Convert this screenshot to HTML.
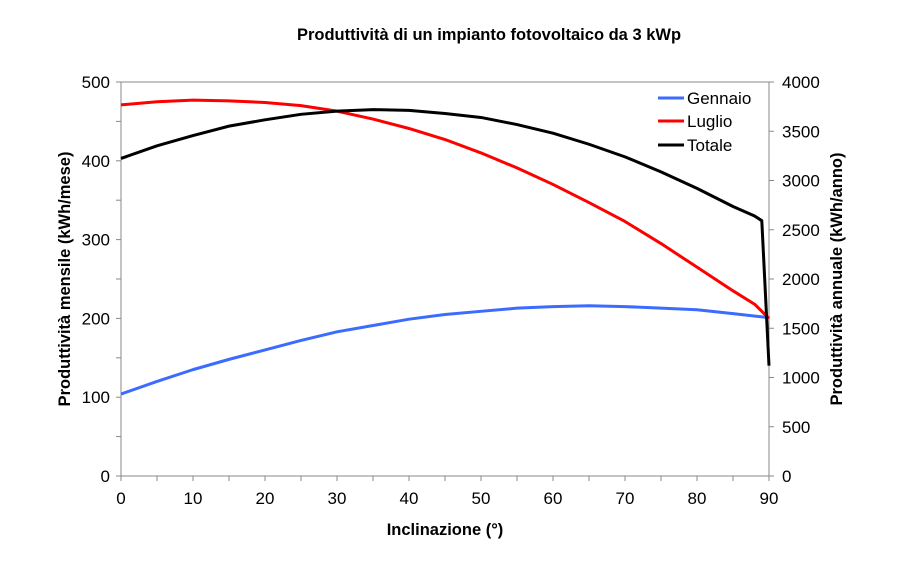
<!DOCTYPE html>
<html><head><meta charset="utf-8"><style>
body{margin:0;background:#fff}
svg{display:block;font-family:"Liberation Sans",Arial,sans-serif}
</style></head><body>
<svg id="c" width="900" height="562" xmlns="http://www.w3.org/2000/svg">
<rect width="900" height="562" fill="#fff"/>
<text x="489" y="40" font-size="16.5" font-weight="bold" text-anchor="middle">Produttività di un impianto fotovoltaico da 3 kWp</text>
<g id="ax" stroke="#888" stroke-width="1" fill="none">
<line x1="121" y1="82" x2="769" y2="82"/>
<line x1="121" y1="82" x2="121" y2="476"/>
<line x1="769" y1="82" x2="769" y2="476"/>
<line x1="121" y1="476" x2="769" y2="476"/>
</g>
<g id="lab" font-size="17"></g>
<text x="445" y="535" font-size="16.5" font-weight="bold" text-anchor="middle">Inclinazione (°)</text>
<text transform="translate(70,279) rotate(-90)" font-size="16.5" font-weight="bold" text-anchor="middle">Produttività mensile (kWh/mese)</text>
<text transform="translate(842,279) rotate(-90)" font-size="16.5" font-weight="bold" text-anchor="middle">Produttività annuale (kWh/anno)</text>
<g id="ser" fill="none" stroke-width="3" stroke-linejoin="round"></g>
<g font-size="17">
<line x1="658" y1="98" x2="684" y2="98" stroke="#3b6cff" stroke-width="3"/><text x="687" y="104">Gennaio</text>
<line x1="658" y1="121" x2="684" y2="121" stroke="#ff0000" stroke-width="3"/><text x="687" y="127">Luglio</text>
<line x1="658" y1="145" x2="684" y2="145" stroke="#000" stroke-width="3"/><text x="687" y="151">Totale</text>
</g>
</svg>
<script>
var NS="http://www.w3.org/2000/svg";
function X(d){return 121+d*7.2}function Y(v){return 476-v*0.788}
function el(p,t,a,txt){var e=document.createElementNS(NS,t);for(var k in a)e.setAttribute(k,a[k]);if(txt!=null)e.textContent=txt;document.getElementById(p).appendChild(e);}
for(var v=0;v<=500;v+=50){var y=Y(v);el("ax","line",{x1:116,y1:y,x2:121,y2:y});if(v%100==0)el("lab","text",{x:110,y:y+6,"text-anchor":"end"},v);}
for(var r=0;r<=4000;r+=500){var y=476-r*0.0985;el("ax","line",{x1:769,y1:y,x2:774,y2:y});el("lab","text",{x:782,y:y+6},r);}
for(var d=0;d<=90;d+=5){var x=X(d);el("ax","line",{x1:x,y1:476,x2:x,y2:481});if(d%10==0)el("lab","text",{x:x,y:504,"text-anchor":"middle"},d);}
function pl(pts,c){el("ser","polyline",{points:pts.map(function(p){return X(p[0])+","+Y(p[1])}).join(" "),stroke:c});}
pl([[0,104],[5,120],[10,135],[15,148],[20,160],[25,172],[30,183],[35,191],[40,199],[45,205],[50,209],[55,213],[60,215],[65,216],[70,215],[75,213],[80,211],[85,206],[90,201]],"#3b6cff");
pl([[0,471],[5,475],[10,477],[15,476],[20,474],[25,470],[30,463],[35,453],[40,441],[45,427],[50,410],[55,391],[60,370],[65,347],[70,323],[75,295],[80,265],[85,235],[88,218],[90,200]],"#ff0000");
pl([[0,403],[5,419],[10,432],[15,444],[20,452],[25,459],[30,463],[35,465],[40,464],[45,460],[50,455],[55,446],[60,435],[65,421],[70,405],[75,386],[80,365],[85,342],[88,330],[89,324],[90,140]],"#000");
</script>
</body></html>
